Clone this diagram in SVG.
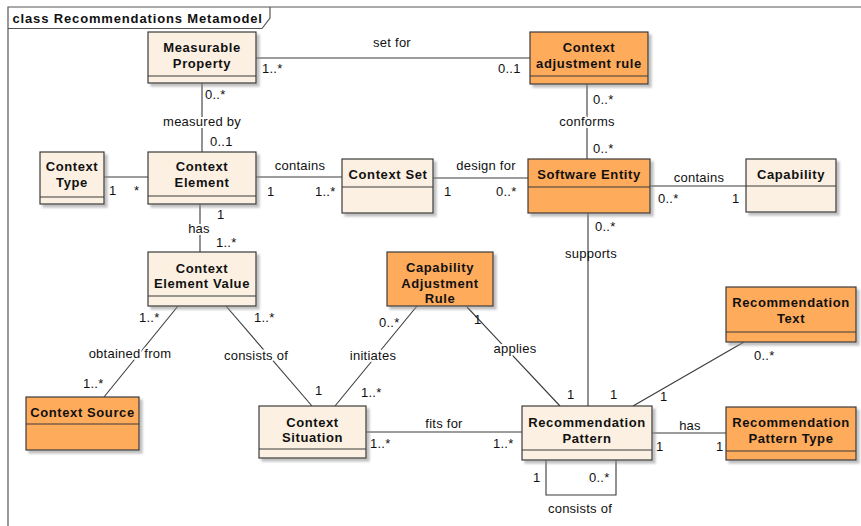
<svg xmlns="http://www.w3.org/2000/svg" width="861" height="526" viewBox="0 0 861 526">
  <defs>
    <filter id="shadow" x="-10%" y="-10%" width="130%" height="130%">
      <feDropShadow dx="3" dy="3" stdDeviation="0.8" flood-color="#8a8a8a" flood-opacity="0.55"/>
    </filter>
  </defs>
  <style>
    text { font-family: "Liberation Sans", Arial, sans-serif; fill: #111; }
    .name { font-size: 13px; font-weight: bold; letter-spacing: 0.6px; text-anchor: middle; }
    .title { font-size: 13px; font-weight: bold; letter-spacing: 0.85px; }
    .lbl { font-size: 13px; letter-spacing: 0.25px; }
    .mid { text-anchor: middle; }
    .halo { stroke: #fff; stroke-width: 4px; paint-order: stroke; stroke-linejoin: round; }
    .box { stroke: #3a3a3a; stroke-width: 1.2; filter: url(#shadow); }
    .cream { fill: #fbf0e1; }
    .orange { fill: #ffab5c; }
    .div { stroke: #3a3a3a; stroke-width: 1.2; }
    .edge { stroke: #3a3a3a; stroke-width: 1.1; fill: none; }
    .frame { stroke: #555; stroke-width: 1.2; fill: none; }
  </style>

  <rect width="861" height="526" fill="#fff"/>

  <!-- diagram frame with name tab -->
  <g id="frame">
    <path class="frame" d="M8,526 V7 H861"/>
    <path class="frame" d="M8,28.5 H262 L270,18 V7"/>
    <text class="title" x="12.5" y="23">class Recommendations Metamodel</text>
  </g>

  <!-- associations -->
  <g id="connectors">
    <path class="edge" d="M256,58 H530"/>
    <path class="edge" d="M202,83 V152"/>
    <path class="edge" d="M104,177 H148"/>
    <path class="edge" d="M256,177 H342"/>
    <path class="edge" d="M433,178 H528"/>
    <path class="edge" d="M587,84 V159"/>
    <path class="edge" d="M650,186 H746"/>
    <path class="edge" d="M588,213 V406"/>
    <path class="edge" d="M200,204 V252"/>
    <path class="edge" d="M178,306 L104,397"/>
    <path class="edge" d="M226,306 L312,406"/>
    <path class="edge" d="M417,306 L335,406"/>
    <path class="edge" d="M467,307 L560,406"/>
    <path class="edge" d="M366,432 H522"/>
    <path class="edge" d="M744,342 L633,406"/>
    <path class="edge" d="M652,433 H726"/>
    <path class="edge" d="M546,460 V495 H616 V460"/>

    <!-- role names and multiplicities -->
    <text class="lbl mid" x="392" y="47">set for</text>
    <text class="lbl" x="262" y="73">1..*</text>
    <text class="lbl" x="498" y="73">0..1</text>

    <text class="lbl" x="205" y="99">0..*</text>
    <text class="lbl mid halo" x="202" y="126">measured by</text>
    <text class="lbl" x="210" y="146">0..1</text>

    <text class="lbl" x="109" y="195">1</text>
    <text class="lbl" x="134" y="195">*</text>

    <text class="lbl mid" x="300" y="170">contains</text>
    <text class="lbl" x="267" y="196">1</text>
    <text class="lbl" x="315" y="196">1..*</text>

    <text class="lbl mid" x="486" y="170">design for</text>
    <text class="lbl" x="444" y="196">1</text>
    <text class="lbl" x="496" y="196">0..*</text>

    <text class="lbl" x="593" y="104">0..*</text>
    <text class="lbl mid halo" x="587" y="126">conforms</text>
    <text class="lbl" x="593" y="153">0..*</text>

    <text class="lbl mid" x="699" y="182">contains</text>
    <text class="lbl" x="658" y="203">0..*</text>
    <text class="lbl" x="732" y="203">1</text>

    <text class="lbl" x="595" y="231">0..*</text>
    <text class="lbl mid" x="591" y="258">supports</text>
    <text class="lbl" x="610" y="399">1</text>

    <text class="lbl" x="217" y="219">1</text>
    <text class="lbl mid halo" x="199" y="233">has</text>
    <text class="lbl" x="216" y="247">1..*</text>

    <text class="lbl" x="139" y="322">1..*</text>
    <text class="lbl mid halo" x="130" y="358">obtained from</text>
    <text class="lbl" x="83" y="388">1..*</text>

    <text class="lbl" x="254" y="322">1..*</text>
    <text class="lbl mid halo" x="256" y="360">consists of</text>
    <text class="lbl" x="315" y="395">1</text>

    <text class="lbl" x="379" y="327">0..*</text>
    <text class="lbl mid halo" x="373" y="360">initiates</text>
    <text class="lbl" x="361" y="397">1..*</text>

    <text class="lbl" x="474" y="324">1</text>
    <text class="lbl mid halo" x="515" y="353">applies</text>
    <text class="lbl" x="567" y="399">1</text>

    <text class="lbl mid halo" x="444" y="428">fits for</text>
    <text class="lbl" x="370" y="448">1..*</text>
    <text class="lbl" x="493" y="448">1..*</text>

    <text class="lbl" x="754" y="360">0..*</text>
    <text class="lbl" x="660" y="401">1</text>

    <text class="lbl mid" x="690" y="430">has</text>
    <text class="lbl" x="656" y="451">1</text>
    <text class="lbl" x="716" y="451">1</text>

    <text class="lbl" x="533" y="482">1</text>
    <text class="lbl" x="589" y="482">0..*</text>
    <text class="lbl mid" x="580" y="513">consists of</text>
  </g>

  <!-- classes -->
  <g id="measurable-property">
    <rect class="box cream" x="148" y="32" width="108" height="51"/>
    <line class="div" x1="148" y1="76" x2="256" y2="76"/>
    <text class="name" x="202" y="52">Measurable</text>
    <text class="name" x="202" y="68">Property</text>
  </g>

  <g id="context-adjustment-rule">
    <rect class="box orange" x="530" y="32" width="118" height="52"/>
    <line class="div" x1="530" y1="76" x2="648" y2="76"/>
    <text class="name" x="589" y="52">Context</text>
    <text class="name" x="589" y="68">adjustment rule</text>
  </g>

  <g id="context-type">
    <rect class="box cream" x="40" y="152" width="64" height="52"/>
    <line class="div" x1="40" y1="197" x2="104" y2="197"/>
    <text class="name" x="72" y="171">Context</text>
    <text class="name" x="72" y="187">Type</text>
  </g>

  <g id="context-element">
    <rect class="box cream" x="148" y="152" width="108" height="52"/>
    <line class="div" x1="148" y1="196" x2="256" y2="196"/>
    <text class="name" x="202" y="171">Context</text>
    <text class="name" x="202" y="187">Element</text>
  </g>

  <g id="context-set">
    <rect class="box cream" x="342" y="159" width="91" height="54"/>
    <line class="div" x1="342" y1="187" x2="433" y2="187"/>
    <text class="name" x="388" y="179">Context Set</text>
  </g>

  <g id="software-entity">
    <rect class="box orange" x="528" y="159" width="122" height="54"/>
    <line class="div" x1="528" y1="187" x2="650" y2="187"/>
    <text class="name" x="589" y="179">Software Entity</text>
  </g>

  <g id="capability">
    <rect class="box cream" x="746" y="159" width="90" height="53"/>
    <line class="div" x1="746" y1="186" x2="836" y2="186"/>
    <text class="name" x="791" y="179">Capability</text>
  </g>

  <g id="context-element-value">
    <rect class="box cream" x="148" y="252" width="108" height="54"/>
    <line class="div" x1="148" y1="296" x2="256" y2="296"/>
    <text class="name" x="202" y="273">Context</text>
    <text class="name" x="202" y="288">Element Value</text>
  </g>

  <g id="capability-adjustment-rule">
    <rect class="box orange" x="387" y="252" width="106" height="54"/>
    <text class="name" x="440" y="272">Capability</text>
    <text class="name" x="440" y="288">Adjustment</text>
    <text class="name" x="440" y="303">Rule</text>
  </g>

  <g id="context-source">
    <rect class="box orange" x="26" y="397" width="113" height="53"/>
    <line class="div" x1="26" y1="424" x2="139" y2="424"/>
    <text class="name" x="82.5" y="417">Context Source</text>
  </g>

  <g id="context-situation">
    <rect class="box cream" x="259" y="406" width="107" height="52"/>
    <line class="div" x1="259" y1="449" x2="366" y2="449"/>
    <text class="name" x="312.5" y="427">Context</text>
    <text class="name" x="312.5" y="442">Situation</text>
  </g>

  <g id="recommendation-pattern">
    <rect class="box cream" x="522" y="406" width="130" height="54"/>
    <line class="div" x1="522" y1="450" x2="652" y2="450"/>
    <text class="name" x="587" y="427">Recommendation</text>
    <text class="name" x="587" y="443">Pattern</text>
  </g>

  <g id="recommendation-text">
    <rect class="box orange" x="726" y="287" width="130" height="55"/>
    <line class="div" x1="726" y1="332" x2="856" y2="332"/>
    <text class="name" x="791" y="307">Recommendation</text>
    <text class="name" x="791" y="323">Text</text>
  </g>

  <g id="recommendation-pattern-type">
    <rect class="box orange" x="726" y="407" width="130" height="53"/>
    <line class="div" x1="726" y1="451" x2="856" y2="451"/>
    <text class="name" x="791" y="427">Recommendation</text>
    <text class="name" x="791" y="443">Pattern Type</text>
  </g>
</svg>
